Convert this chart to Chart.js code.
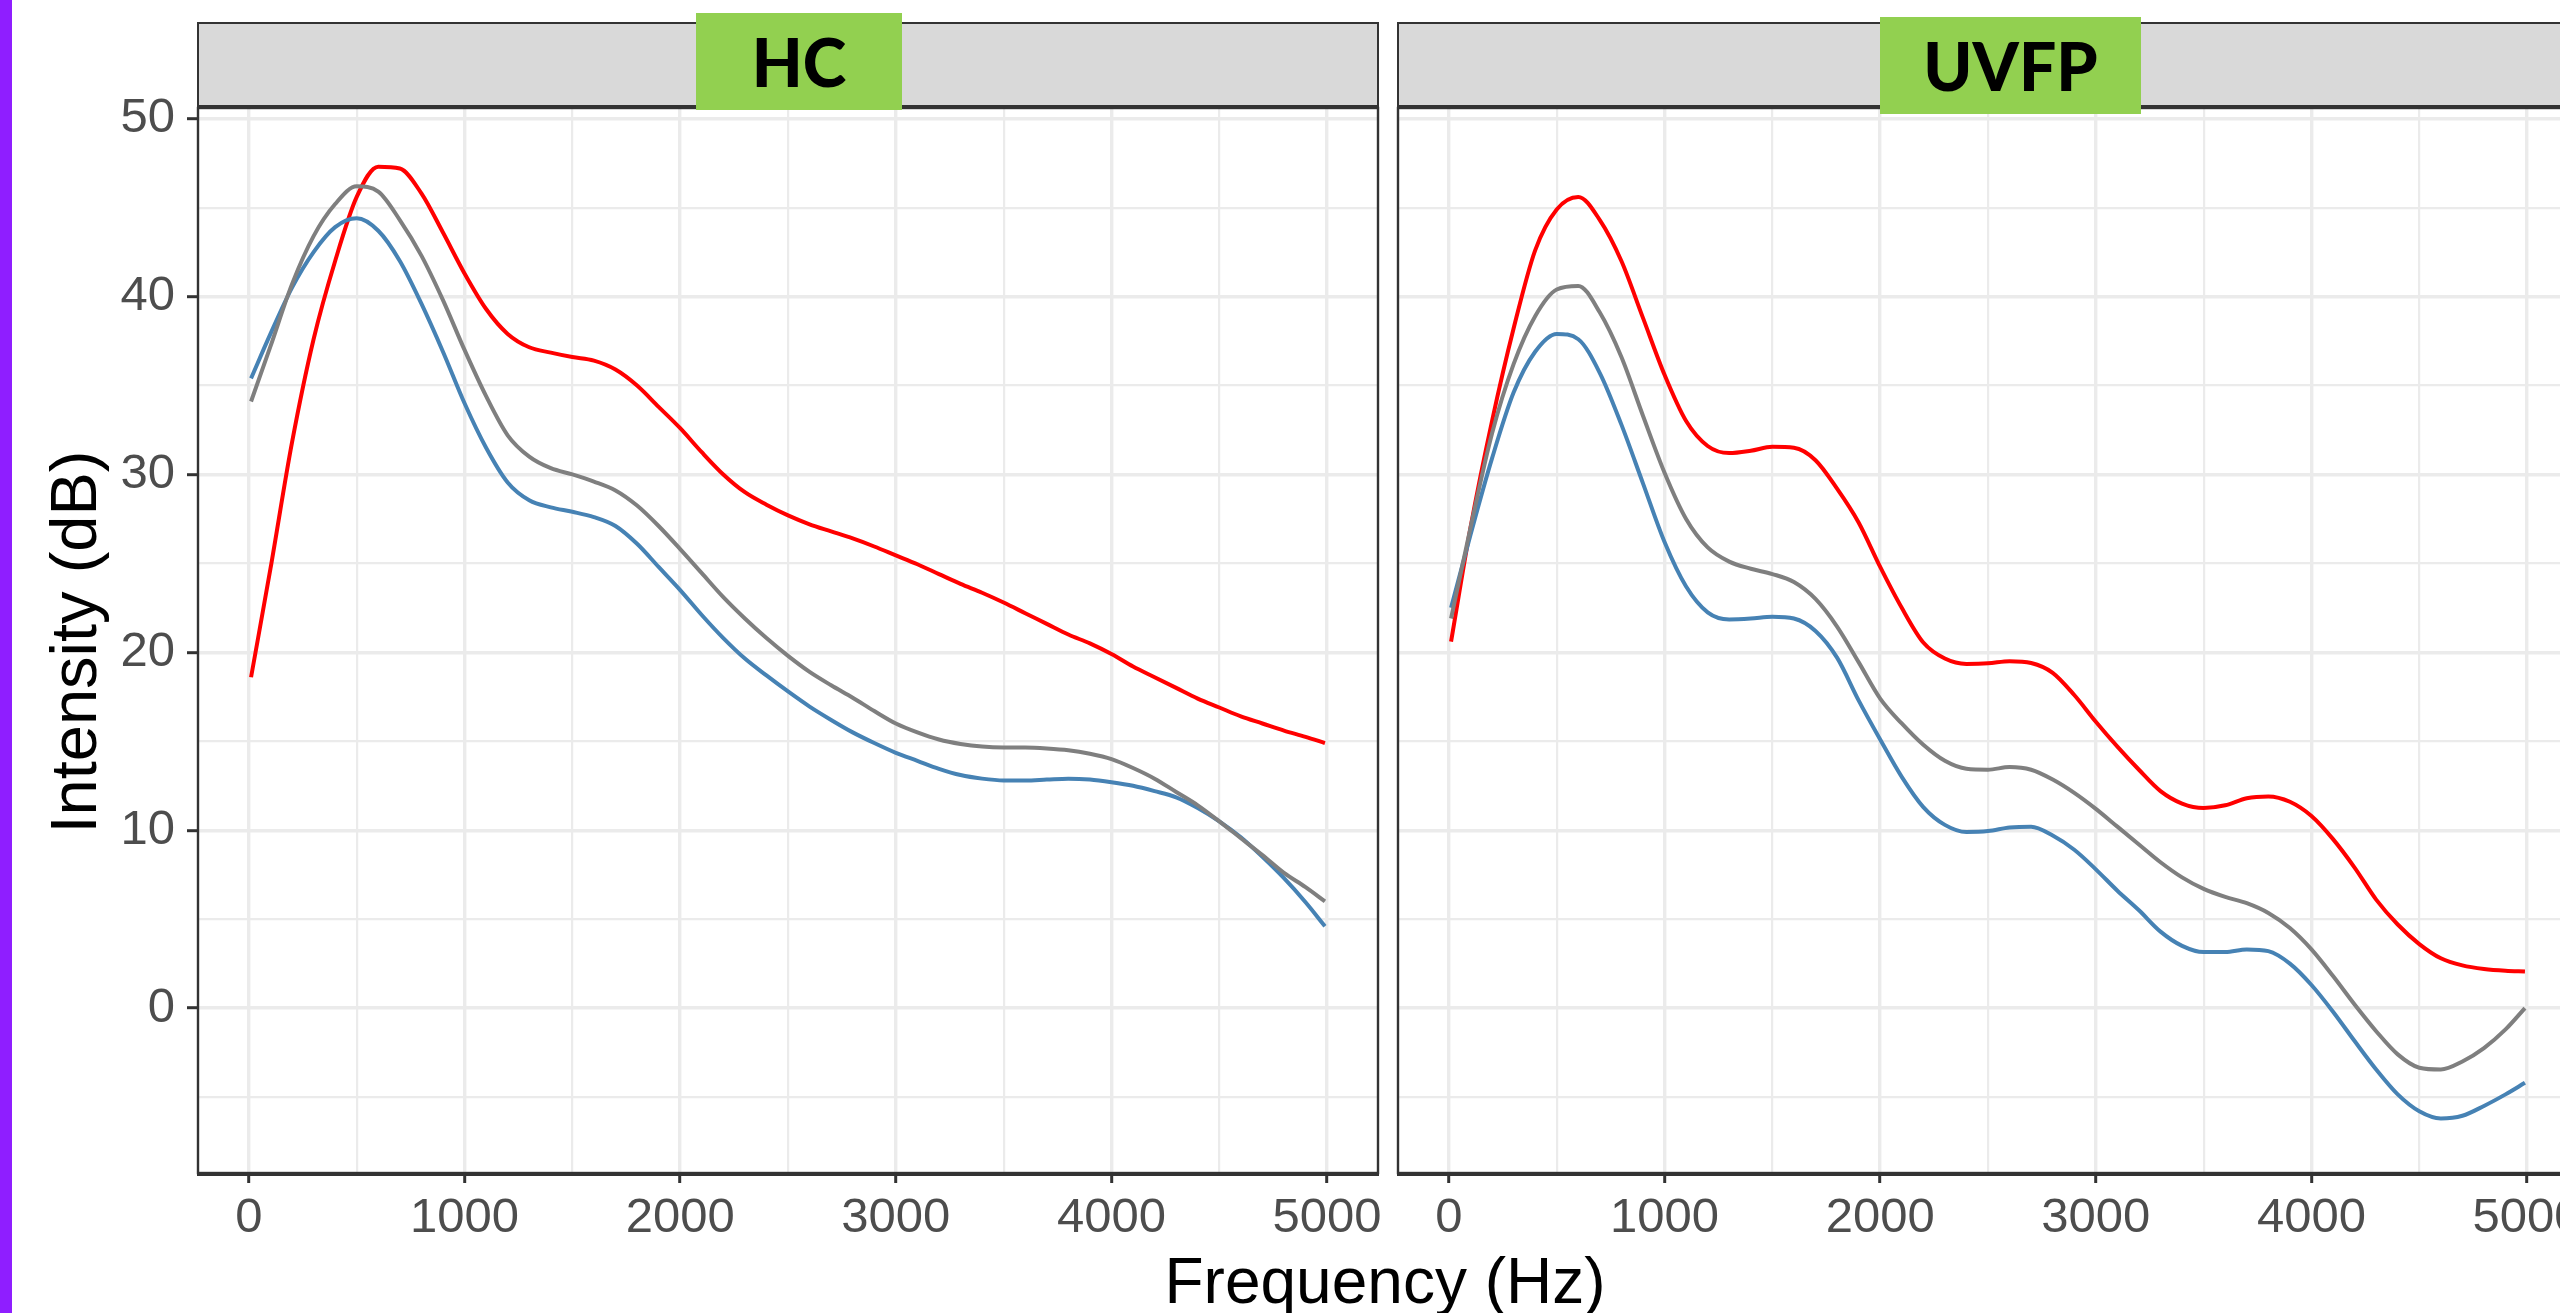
<!DOCTYPE html>
<html>
<head>
<meta charset="utf-8">
<script src="https://cdn.jsdelivr.net/npm/chart.js@4.4.0/dist/chart.umd.min.js"></script>
<style>
  body { margin: 0; width: 2560px; height: 1313px; overflow: hidden; background: #fff; position: relative;
         font-family: "Liberation Sans", Arial, sans-serif; }
  canvas { position: absolute; top: 0; }
  #bar { position: absolute; left: 0; top: 0; width: 12px; height: 1313px; background: #8f1eff; }
  .strip { position: absolute; top: 22px; height: 86px; box-sizing: border-box; background: #d9d9d9;
           border: 2px solid #333; border-bottom-width: 3px; }
  .tag { position: absolute; background: #92d050; color: #000; display: flex; align-items: center;
         justify-content: center; font-family: Lato, "Open Sans", sans-serif; font-weight: 900; font-size: 66px; }
  .title { position: absolute; color: #000; font-size: 64px; text-align: center; white-space: nowrap; }
</style>
</head>
<body>
<div id="bar"></div>
<canvas id="hc" width="1392" height="1313" style="left:0;width:1392px;height:1313px"></canvas>
<canvas id="uvfp" width="1200" height="1313" style="left:1390px;width:1200px;height:1313px"></canvas>
<div class="strip" style="left:197px;width:1182px"></div>
<div class="strip" style="left:1397px;width:1182px"></div>
<div class="tag" style="left:696px;top:13px;width:206px;height:97px">HC</div>
<div class="tag" style="left:1880px;top:17px;width:261px;height:97px">UVFP</div>
<div class="title" style="left:-176px;top:607px;width:500px;height:70px;line-height:70px;font-size:65px;transform:rotate(-90deg)">Intensity (dB)</div>
<div class="title" style="left:885px;top:1241px;width:1000px;height:80px;line-height:80px">Frequency (Hz)</div>
<script>
// frequency grid (Hz)
const freqs = [10, 100, 200, 300, 400, 500, 600, 700, 800, 900,
  1000, 1100, 1200, 1300, 1400, 1500, 1600, 1700, 1800, 1900,
  2000, 2100, 2200, 2300, 2400, 2500, 2600, 2700, 2800, 2900,
  3000, 3100, 3200, 3300, 3400, 3500, 3600, 3700, 3800, 3900,
  4000, 4100, 4200, 4300, 4400, 4500, 4600, 4700, 4800, 4900, 4990]

// HC panel
const hcRed = [18.6, 24.7, 31.8, 37.6, 42.0, 45.6, 47.3, 47.2, 45.8, 43.6,
  41.3, 39.3, 37.9, 37.15, 36.85, 36.6, 36.4, 35.9, 35.0, 33.8,
  32.6, 31.25, 30.0, 29.0, 28.3, 27.7, 27.2, 26.8, 26.4, 25.95,
  25.45, 24.95, 24.4, 23.85, 23.35, 22.8, 22.2, 21.6, 21.0, 20.5,
  19.9, 19.2, 18.6, 18.0, 17.4, 16.9, 16.4, 16.0, 15.6, 15.25, 14.9]
const hcGray = [34.1, 37.2, 40.7, 43.4, 45.2, 46.2, 45.9, 44.3, 42.3, 39.8,
  37.0, 34.4, 32.2, 31.0, 30.35, 30.0, 29.6, 29.1, 28.25, 27.1,
  25.8, 24.45, 23.1, 21.9, 20.8, 19.8, 18.9, 18.15, 17.45, 16.7,
  16.0, 15.5, 15.1, 14.85, 14.7, 14.65, 14.65, 14.6, 14.5, 14.3,
  14.0, 13.5, 12.9, 12.15, 11.4, 10.5, 9.55, 8.6, 7.6, 6.8, 6.0]
const hcBlue = [35.4, 37.9, 40.5, 42.5, 43.9, 44.4, 43.7, 42.0, 39.6, 36.9,
  34.0, 31.5, 29.55, 28.55, 28.15, 27.9, 27.6, 27.1, 26.1, 24.8,
  23.5, 22.1, 20.8, 19.65, 18.7, 17.8, 16.95, 16.2, 15.5, 14.9,
  14.35, 13.9, 13.45, 13.1, 12.9, 12.8, 12.8, 12.85, 12.9, 12.85,
  12.7, 12.5, 12.2, 11.85, 11.25, 10.5, 9.6, 8.5, 7.3, 5.95, 4.6]

// UVFP panel
const uvRed = [20.6, 27.0, 33.0, 38.2, 42.6, 44.9, 45.6, 44.3, 42.0, 38.8,
  35.6, 33.0, 31.6, 31.2, 31.33, 31.55, 31.5, 30.8, 29.2, 27.3,
  24.8, 22.5, 20.55, 19.65, 19.35, 19.38, 19.5, 19.4, 18.85, 17.6,
  16.1, 14.7, 13.4, 12.2, 11.5, 11.25, 11.4, 11.8, 11.9, 11.6,
  10.8, 9.5, 7.9, 6.1, 4.7, 3.6, 2.8, 2.4, 2.2, 2.1, 2.06]
const uvGray = [21.9, 27.0, 32.3, 36.2, 38.9, 40.4, 40.6, 39.1, 36.6, 33.3,
  30.1, 27.5, 25.9, 25.1, 24.7, 24.4, 23.95, 23.0, 21.45, 19.45,
  17.4, 16.0, 14.8, 13.9, 13.45, 13.4, 13.55, 13.4, 12.85, 12.1,
  11.2, 10.2, 9.2, 8.2, 7.35, 6.7, 6.25, 5.9, 5.35, 4.5,
  3.3, 1.8, 0.2, -1.3, -2.6, -3.35, -3.45, -3.0, -2.25, -1.2, 0.0]
const uvBlue = [22.5, 26.6, 30.9, 34.6, 36.9, 37.9, 37.6, 35.7, 32.8, 29.5,
  26.2, 23.7, 22.25, 21.85, 21.9, 22.0, 21.9, 21.2, 19.7, 17.3,
  15.1, 13.0, 11.3, 10.3, 9.9, 9.95, 10.15, 10.2, 9.7, 8.9,
  7.8, 6.6, 5.5, 4.3, 3.5, 3.15, 3.15, 3.3, 3.2, 2.5,
  1.3, -0.2, -1.85, -3.45, -4.85, -5.8, -6.2, -6.05, -5.5, -4.85, -4.2]

// axis ticks (minor lines every 500 Hz / 5 dB, labels on the majors)
const xTicks = [0, 500, 1000, 1500, 2000, 2500, 3000, 3500, 4000, 4500, 5000]
const xLabels = [0, 1000, 2000, 3000, 4000, 5000]
const yTicks = [-5, 0, 5, 10, 15, 20, 25, 30, 35, 40, 45, 50]
const yLabels = [0, 10, 20, 30, 40, 50]

const tickFont = { family: "'Liberation Sans', Arial, sans-serif", size: 49 }

function pairs(ys) {
    return freqs.map((f, i) => ({ x: f, y: ys[i] }))
}

// ggplot style panel border drawn over the lines
const panelBorder = {
    id: 'panelBorder',
    afterDatasetsDraw(chart) {
        const { ctx, chartArea: a } = chart
        ctx.save()
        ctx.strokeStyle = '#333333'
        ctx.lineWidth = 2.4
        ctx.strokeRect(a.left, a.top, a.right - a.left, a.bottom - a.top)
        ctx.lineWidth = 4
        ctx.beginPath()
        ctx.moveTo(a.left - 1, a.bottom + 1)
        ctx.lineTo(a.right + 1, a.bottom + 1)
        ctx.stroke()
        ctx.restore()
    }
}

function buildPanel(id, red, gray, blue, withY, yWidth, padRight) {
    const ctx = document.getElementById(id)
    return new Chart(ctx, {
        type: 'line',
        data: {
            datasets: [
                { data: pairs(gray), borderColor: '#7f7f7f' },
                { data: pairs(blue), borderColor: '#4682b4' },
                { data: pairs(red), borderColor: '#ff0000' }
            ]
        },
        options: {
            responsive: false,
            animation: false,
            devicePixelRatio: 1,
            layout: { padding: { top: 108, right: padRight, left: 0, bottom: 0 } },
            elements: {
                line: { borderWidth: 4, cubicInterpolationMode: 'monotone', fill: false },
                point: { radius: 0 }
            },
            plugins: { legend: { display: false }, tooltip: { enabled: false } },
            scales: {
                x: {
                    type: 'linear',
                    min: -236,
                    max: 5236,
                    afterBuildTicks: s => { s.ticks = xTicks.map(v => ({ value: v })) },
                    afterFit: s => { s.height = 140 },
                    border: { display: false },
                    grid: {
                        color: '#ebebeb',
                        lineWidth: c => (c.tick && c.tick.value % 1000 === 0) ? 3.4 : 2.2,
                        tickLength: 10,
                        tickWidth: 3,
                        tickColor: c => (c.tick && c.tick.value % 1000 === 0) ? '#333333' : 'rgba(0,0,0,0)'
                    },
                    ticks: {
                        autoSkip: false,
                        maxRotation: 0,
                        padding: 6,
                        color: '#4d4d4d',
                        font: tickFont,
                        callback: v => xLabels.includes(v) ? String(v) : ''
                    }
                },
                y: {
                    min: -9.27,
                    max: 50.6,
                    afterBuildTicks: s => { s.ticks = yTicks.map(v => ({ value: v })) },
                    afterFit: s => { s.width = yWidth },
                    border: { display: false },
                    grid: {
                        color: '#ebebeb',
                        lineWidth: c => (c.tick && c.tick.value % 10 === 0) ? 3.4 : 2.2,
                        drawTicks: withY,
                        tickLength: 11,
                        tickWidth: 3,
                        tickColor: c => (c.tick && c.tick.value % 10 === 0) ? '#333333' : 'rgba(0,0,0,0)'
                    },
                    ticks: {
                        display: withY,
                        autoSkip: false,
                        padding: 12,
                        color: '#4d4d4d',
                        font: tickFont,
                        callback: v => yLabels.includes(v) ? String(v) : ''
                    }
                }
            }
        },
        plugins: [panelBorder]
    })
}

buildPanel('hc', hcRed, hcGray, hcBlue, true, 198, 14)
buildPanel('uvfp', uvRed, uvGray, uvBlue, false, 8, 12)
</script>
</body>
</html>
